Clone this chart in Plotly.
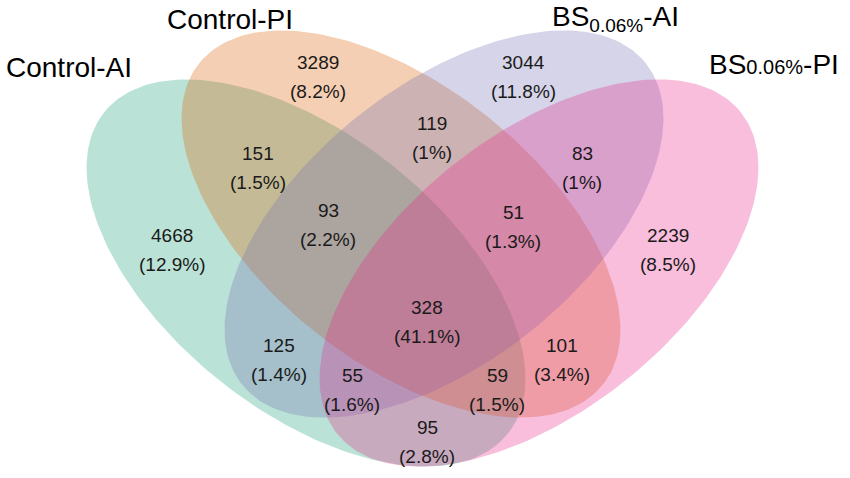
import numpy as np
import plotly.graph_objects as go

# sets and region counts
set_names = ["Control-AI", "Control-PI",
             "BS<sub><span style='font-size:19px'>0.06%</span></sub>-AI",
             "BS<span style='font-size:20px'>0.06%</span>-PI"]
# Dark2 palette, drawn with low opacity
set_colors = ["#1B9E77", "#D95F02", "#7570B3", "#E7298A"]

region_counts = [4668, 3289, 3044, 2239, 151, 119, 83, 93, 51, 328, 125, 101, 55, 59, 95]
region_pcts = ["12.9%", "8.2%", "11.8%", "8.5%", "1.5%", "1%", "1%", "2.2%", "1.3%",
               "41.1%", "1.4%", "3.4%", "1.6%", "1.5%", "2.8%"]

# label anchor positions in the 850x478 canvas (y grows downward)
region_x = [172, 318, 523, 668, 258, 432, 582, 328, 513, 427, 279, 562, 352, 497, 427]
region_y = [235, 62, 62, 235, 153, 123, 153, 210, 212, 307, 345, 345, 375, 375, 427]
line_gap = 29

title_x = [4, 165, 550, 707]
title_y = [67, 19, 18, 64]

# ellipse geometry: centre, semi axes, tilt
ell_cx = [306, 401, 444, 539]
ell_cy = [273, 224, 224, 273]
ell_a, ell_b = 258, 138
ell_rot = [38.5, 38.5, -38.5, -38.5]

fig = go.Figure()

t = np.linspace(0, 2 * np.pi, 240)
for cx, cy, rot, col in zip(ell_cx, ell_cy, ell_rot, set_colors):
    r = np.deg2rad(rot)
    ex = cx + ell_a * np.cos(t) * np.cos(r) - ell_b * np.sin(t) * np.sin(r)
    ey = cy + ell_a * np.cos(t) * np.sin(r) + ell_b * np.sin(t) * np.cos(r)
    fig.add_trace(go.Scatter(x=ex, y=ey, mode="lines", fill="toself",
                             fillcolor=col, opacity=0.3,
                             line=dict(width=0, color=col),
                             hoverinfo="skip", showlegend=False))

for n, p, x, y in zip(region_counts, region_pcts, region_x, region_y):
    fig.add_annotation(x=x, y=y, xref="x", yref="y", showarrow=False,
                       text=str(n), font=dict(size=19, color="#1a1a1a"))
    fig.add_annotation(x=x, y=y + line_gap, xref="x", yref="y", showarrow=False,
                       text=f"({p})", font=dict(size=19, color="#1a1a1a"))

for name, x, y in zip(set_names, title_x, title_y):
    fig.add_annotation(x=x, y=y, xref="x", yref="y", showarrow=False,
                       xanchor="left", text=name, font=dict(size=28, color="black"))

fig.update_layout(
    width=850, height=478,
    margin=dict(l=0, r=0, t=0, b=0),
    paper_bgcolor="white", plot_bgcolor="white",
    font=dict(family="Arial, Liberation Sans, sans-serif"),
    xaxis=dict(range=[0, 850], visible=False, fixedrange=True),
    yaxis=dict(range=[478, 0], visible=False, fixedrange=True),
)

# drop the browser's default page margin so the figure fills the window
fig.write_html("out.html", config={"displayModeBar": False},
               post_script="document.body.style.margin='0';")
